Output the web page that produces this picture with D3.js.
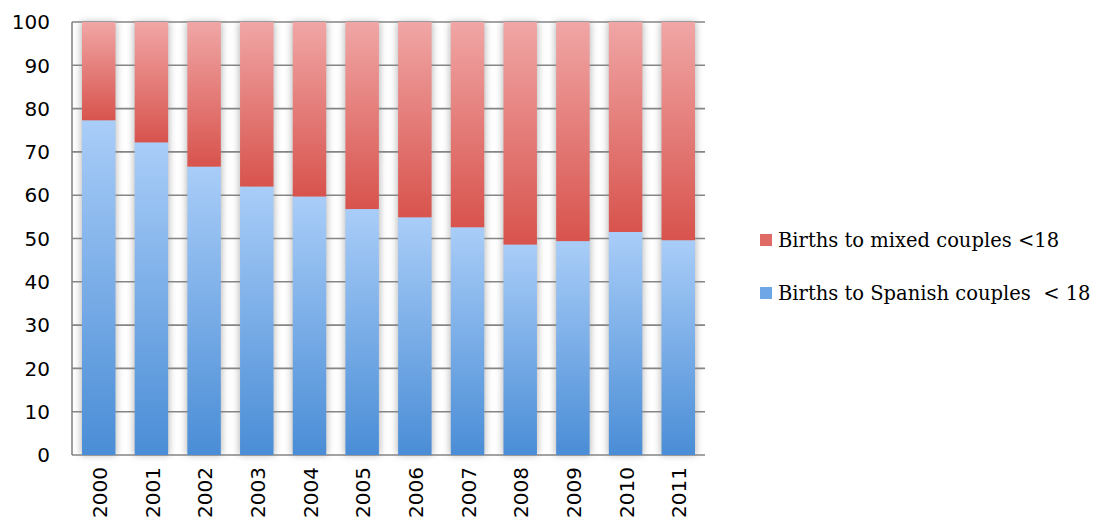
<!DOCTYPE html>
<html>
<head>
<meta charset="utf-8">
<script src="https://cdn.jsdelivr.net/npm/d3@7"></script>
<style>
  html, body { margin: 0; padding: 0; background: #fff; }
  svg { display: block; }
</style>
</head>
<body>
<div id="chart"></div>
<script>
// Data (percent of births to mothers under 18)
const years = ['2000', '2001', '2002', '2003', '2004', '2005', '2006', '2007', '2008', '2009', '2010', '2011']
const spanish = [77.3, 72.2, 66.6, 62.0, 59.7, 56.8, 54.9, 52.6, 48.6, 49.4, 51.5, 49.6]
const mixed = [22.7, 27.8, 33.4, 38.0, 40.3, 43.2, 45.1, 47.4, 51.4, 50.6, 48.5, 50.4]
const yTicks = [0, 10, 20, 30, 40, 50, 60, 70, 80, 90, 100]
const legendLabels = ['Births to mixed couples <18', 'Births to Spanish couples  < 18']

const width = 1094
const height = 525
const margin = { top: 22, right: 389, bottom: 70, left: 72 }

const svg = d3.select('#chart')
  .append('svg')
  .attr('width', width)
  .attr('height', height)

const defs = svg.append('defs')

// Gradients per segment
const redGrad = defs.append('linearGradient')
  .attr('id', 'red-grad')
  .attr('x1', 0).attr('y1', 0).attr('x2', 0).attr('y2', 1)
redGrad.append('stop').attr('offset', '0%').attr('stop-color', '#f0a6a5')
redGrad.append('stop').attr('offset', '100%').attr('stop-color', '#d8534d')

const blueGrad = defs.append('linearGradient')
  .attr('id', 'blue-grad')
  .attr('x1', 0).attr('y1', 0).attr('x2', 0).attr('y2', 1)
blueGrad.append('stop').attr('offset', '0%').attr('stop-color', '#a9cdf8')
blueGrad.append('stop').attr('offset', '100%').attr('stop-color', '#4a8dd6')

// Soft shadow round the bars
defs.append('filter')
  .attr('id', 'bar-shadow')
  .attr('x', '-50%').attr('y', '-5%').attr('width', '200%').attr('height', '110%')
  .append('feGaussianBlur')
  .attr('stdDeviation', 3.5)

const x = d3.scaleBand()
  .domain(years)
  .range([margin.left, width - margin.right])
  .paddingInner(0.365)
  .paddingOuter(0.19)

const y = d3.scaleLinear()
  .domain([0, 100])
  .range([height - margin.bottom, margin.top])

const rows = years.map((yr, i) => ({ year: yr, spanish: spanish[i], mixed: mixed[i] }))
const stacked = d3.stack().keys(['spanish', 'mixed'])(rows)

// Shadow layer
svg.append('g')
  .selectAll('rect')
  .data(rows)
  .join('rect')
  .attr('x', d => x(d.year) - 1)
  .attr('y', y(100))
  .attr('width', x.bandwidth() + 2)
  .attr('height', y(0) - y(100))
  .attr('fill', '#b8b8b8')
  .attr('filter', 'url(#bar-shadow)')

// Grid lines
svg.append('g')
  .selectAll('line')
  .data(yTicks)
  .join('line')
  .attr('x1', margin.left)
  .attr('x2', width - margin.right)
  .attr('y1', d => y(d))
  .attr('y2', d => y(d))
  .attr('stroke', '#858585')
  .attr('stroke-width', 1.6)

// Bars
const fills = { spanish: 'url(#blue-grad)', mixed: 'url(#red-grad)' }
svg.append('g')
  .selectAll('g')
  .data(stacked)
  .join('g')
  .attr('fill', d => fills[d.key])
  .selectAll('rect')
  .data(d => d)
  .join('rect')
  .attr('x', d => x(d.data.year))
  .attr('y', d => y(d[1]))
  .attr('width', x.bandwidth())
  .attr('height', d => y(d[0]) - y(d[1]))

// Y axis line
svg.append('line')
  .attr('x1', margin.left)
  .attr('x2', margin.left)
  .attr('y1', y(0))
  .attr('y2', y(100))
  .attr('stroke', '#858585')
  .attr('stroke-width', 1.6)

// Y axis labels
svg.append('g')
  .selectAll('text')
  .data(yTicks)
  .join('text')
  .attr('x', 50)
  .attr('y', d => y(d))
  .attr('dy', '0.36em')
  .attr('text-anchor', 'end')
  .attr('font-family', 'DejaVu Sans, sans-serif')
  .attr('font-size', '20px')
  .attr('fill', '#000')
  .text(d => d)

// X axis labels (rotated)
svg.append('g')
  .selectAll('text')
  .data(years)
  .join('text')
  .attr('transform', d => `translate(${x(d) + x.bandwidth() / 2 + 1}, ${y(0) + 12}) rotate(-90)`)
  .attr('dy', '0.36em')
  .attr('text-anchor', 'end')
  .attr('font-family', 'DejaVu Sans, sans-serif')
  .attr('font-size', '20px')
  .attr('fill', '#000')
  .text(d => d)

// Legend
const legendColors = ['#e06a66', '#6fa6e6']
const legend = svg.append('g')
  .selectAll('g')
  .data(legendLabels)
  .join('g')
  .attr('transform', (d, i) => `translate(760, ${240 + i * 53})`)

legend.append('rect')
  .attr('x', 0)
  .attr('y', -6)
  .attr('width', 12)
  .attr('height', 12)
  .attr('fill', (d, i) => legendColors[i])

legend.append('text')
  .attr('x', 18)
  .attr('y', 0)
  .attr('dy', '0.36em')
  .attr('font-family', 'DejaVu Serif, serif')
  .attr('font-size', '19.5px')
  .attr('fill', '#000')
  .style('white-space', 'pre')
  .text(d => d)
</script>
</body>
</html>
